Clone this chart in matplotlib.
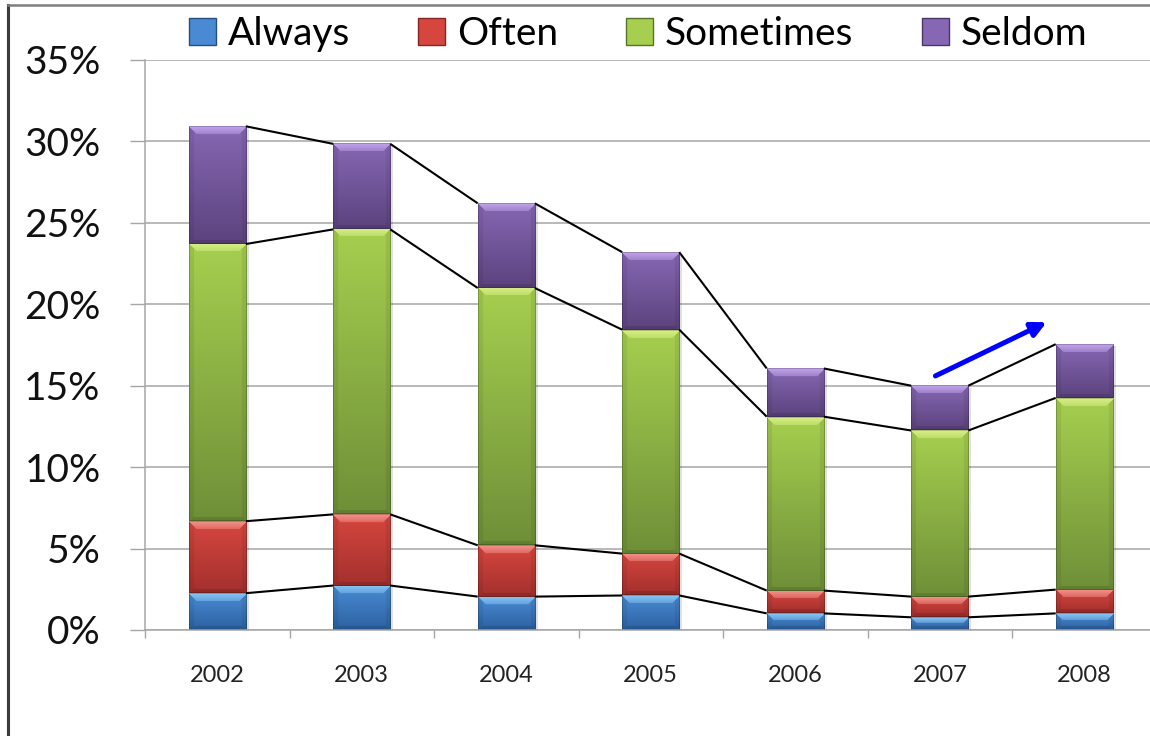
#!/usr/bin/env python3
# -*- coding: utf-8 -*-
"""
Stacked frequency shares by year (2002-2008) with series lines
joining the segment tops, drawn with bevelled bars.
"""

import matplotlib.pyplot as plt
import matplotlib.colors as mcolors
import numpy as np
from matplotlib.patches import Rectangle
from matplotlib.lines import Line2D

plt.switch_backend('Agg')
plt.rcParams['font.family'] = ['Lato', 'DejaVu Sans']

# Data (percent of respondents)
YEARS = ['2002', '2003', '2004', '2005', '2006', '2007', '2008']
ALWAYS = [2.26, 2.73, 2.05, 2.12, 1.02, 0.78, 1.02]
OFTEN = [4.42, 4.37, 3.15, 2.57, 1.40, 1.27, 1.46]
SOMETIMES = [17.02, 17.50, 15.80, 13.75, 10.68, 10.20, 11.77]
SELDOM = [7.23, 5.25, 5.20, 4.76, 2.96, 2.75, 3.30]
SERIES_NAMES = ['Always', 'Often', 'Sometimes', 'Seldom']
Y_TICKS = [0, 5, 10, 15, 20, 25, 30, 35]

# top shade, bottom shade, bevel highlight
SHADES = {
    'Always': ('#4A8AD2', '#2C62A2', '#8CCBF7'),
    'Often': ('#D6463F', '#A3302D', '#F59A92'),
    'Sometimes': ('#A6CF4F', '#6F8F38', '#DDF28C'),
    'Seldom': ('#8667B3', '#5C437E', '#C6AAF0'),
}

BAR_WIDTH = 0.395
GRID_GRAY = '#A6A6A6'


def bevel_image(h_px, w_px, top, bottom, light):
    """RGB array for one bevelled bar segment"""
    top, bottom, light = (np.array(mcolors.to_rgb(c)) for c in (top, bottom, light))
    H = max(int(round(h_px)), 2)
    W = max(int(round(w_px)), 2)
    t = np.linspace(0, 1, H)[:, None, None]
    img = np.broadcast_to(top * (1 - t) + bottom * t, (H, W, 3)).copy()

    r = np.arange(H)[:, None].astype(float)
    c = np.arange(W)[None, :].astype(float)
    d_top = np.broadcast_to(r, (H, W))
    d_bot = np.broadcast_to(H - 1 - r, (H, W))
    side = np.broadcast_to(np.minimum(c, W - 1 - c), (H, W))
    bt = min(8.0, H / 2.5)
    bb = min(4.0, H / 4.0)
    bs = 5.0

    top_zone = (d_top < bt) & (d_top <= side)
    bot_zone = (d_bot < bb) & (d_bot < side) & ~top_zone
    side_zone = (side < bs) & ~top_zone & ~bot_zone

    a = 0.9 - 0.5 * (d_top / bt)
    img[top_zone] = img[top_zone] * (1 - a[top_zone, None]) + light * a[top_zone, None]
    img[bot_zone] *= 0.88
    img[side_zone] *= 0.93

    # thin dark rim
    rim = (d_top < 1) | (d_bot < 1) | (side < 1)
    img[rim] *= 0.8
    return np.clip(img, 0, 1)


def draw_bar(ax, x, bottom, height, px_x, px_y, shades):
    left = x - BAR_WIDTH / 2
    right = x + BAR_WIDTH / 2
    # soft drop shadow
    ax.add_patch(Rectangle((left + 0.02, bottom - 0.12), BAR_WIDTH, height,
                           facecolor='#000000', alpha=0.12, edgecolor='none', zorder=1.8))
    img = bevel_image(height * px_y, BAR_WIDTH * px_x, *shades)
    ax.imshow(img, extent=(left, right, bottom, bottom + height), origin='upper',
              aspect='auto', interpolation='bilinear', zorder=2)


def create_chart():
    fig = plt.figure(figsize=(11.5, 7.36), dpi=100)
    fig.patch.set_facecolor('white')

    W, H = 1150.0, 736.0
    ax = fig.add_axes([145 / W, 106 / H, 1011.5 / W, 570 / H])

    n = len(YEARS)
    x = np.arange(n)
    ax.set_xlim(-0.5, n - 0.5)
    ax.set_ylim(0, 35)

    px_x = 1011.5 / n
    px_y = 570 / 35.0

    series = [ALWAYS, OFTEN, SOMETIMES, SELDOM]
    bottoms = np.zeros(n)
    tops = []
    for name, vals in zip(SERIES_NAMES, series):
        vals = np.array(vals)
        for i in range(n):
            draw_bar(ax, x[i], bottoms[i], vals[i], px_x, px_y, SHADES[name])
        bottoms = bottoms + vals
        tops.append(bottoms.copy())

    # series lines between neighbouring bars
    for level in tops:
        for i in range(n - 1):
            ax.plot([x[i] + BAR_WIDTH / 2, x[i + 1] - BAR_WIDTH / 2],
                    [level[i], level[i + 1]], color='black', lw=1.5,
                    solid_capstyle='butt', zorder=3)

    # trend arrow after 2007
    ax.annotate('', xy=(5.74, 18.9), xytext=(4.97, 15.6),
                arrowprops=dict(arrowstyle='-|>', color='#0000FF', lw=3.6,
                                mutation_scale=22, shrinkA=0, shrinkB=0),
                zorder=4)

    ax.set_xlim(-0.5, n - 0.5)
    ax.set_ylim(0, 35)

    # axes styling
    ax.set_yticks(Y_TICKS)
    ax.set_yticklabels(['{}%'.format(v) for v in Y_TICKS], fontsize=28, color='#111111')
    ax.tick_params(axis='y', length=11, width=1, color=GRID_GRAY, pad=21)
    ax.yaxis.grid(True, color=GRID_GRAY, lw=1.1)
    ax.set_axisbelow(True)

    ax.set_xticks(x)
    ax.set_xticklabels(YEARS, fontsize=17, color='#222222')
    ax.tick_params(axis='x', which='major', length=0, pad=25)
    ax.set_xticks(np.arange(-0.5, n, 1.0), minor=True)
    ax.tick_params(axis='x', which='minor', length=6, width=1, color=GRID_GRAY)

    for side in ['top', 'right']:
        ax.spines[side].set_visible(False)
    for side in ['left', 'bottom']:
        ax.spines[side].set_color(GRID_GRAY)
        ax.spines[side].set_linewidth(1.1)

    # legend
    handles = [Rectangle((0, 0), 1, 1, facecolor=SHADES[nm][0],
                         edgecolor=mcolors.to_hex(np.array(mcolors.to_rgb(SHADES[nm][1])) * 0.8),
                         lw=1) for nm in SERIES_NAMES]
    fig.legend(handles, SERIES_NAMES, loc='center', ncol=4, frameon=False,
               bbox_to_anchor=(638 / W, 1 - 34 / H), fontsize=28,
               handlelength=0.7, handleheight=0.7, handletextpad=0.3,
               columnspacing=1.75, borderpad=0, borderaxespad=0)

    # outer frame lines
    fig.add_artist(Line2D([7.5 / W, 7.5 / W], [0, 1 - 5 / H], transform=fig.transFigure,
                          color='#3A3A3A', lw=2.2))
    fig.add_artist(Line2D([7.5 / W, 1], [1 - 5 / H, 1 - 5 / H], transform=fig.transFigure,
                          color='#7F7F7F', lw=1.8))

    fig.savefig('out.png', dpi=100, facecolor='white')
    return 'out.png'


def main():
    create_chart()


if __name__ == "__main__":
    main()
